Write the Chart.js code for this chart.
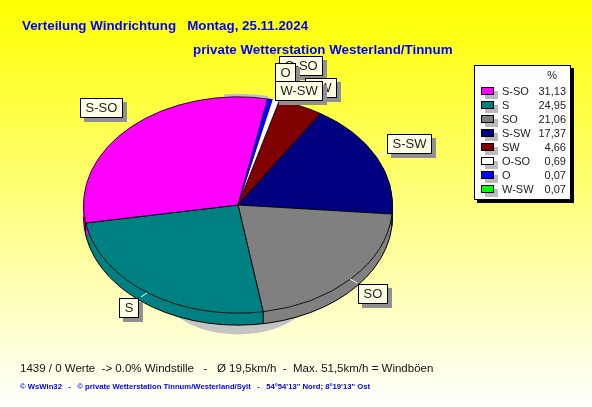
<!DOCTYPE html>
<html lang="de">
<head>
<meta charset="UTF-8">
<title>Verteilung Windrichtung</title>
<script src="https://cdn.jsdelivr.net/npm/chart.js"></script>
<style>
    html, body { margin: 0; padding: 0; }
    body {
        width: 592px; height: 407px; position: relative; overflow: hidden;
        background: linear-gradient(#ffff00, #ffffff);
        font-family: "Liberation Sans", Arial, sans-serif;
    }
    #pie { position: absolute; left: 0; top: 0; }
    .head { position: absolute; color: #0000ff; font-weight: bold; font-size: 13.35px; white-space: pre; }
    .callout {
        position: absolute; box-sizing: border-box; height: 20px; min-width: 20px; line-height: 18px; padding: 0 4.5px;
        background: #ffffe6; border: 1px solid #000; box-shadow: 4px 4px 0 #909090;
        font-size: 13px; color: #222; white-space: nowrap; text-align: center;
    }
    #legend {
        position: absolute; left: 474px; top: 65px; width: 97px; height: 135px; box-sizing: border-box;
        background: #fff; border: 1px solid #000; box-shadow: 3px 3px 0 #000; font-size: 11px; color: #222;
    }
    #legend .pct { position: absolute; right: 13px; top: 3px; }
    #legend .row { position: absolute; left: 0; right: 0; height: 14px; line-height: 14px; }
    #legend .sw { position: absolute; left: 6px; top: 3px; width: 11px; height: 6px; border: 1px solid #000; box-shadow: 4px 4px 0 #bbb; }
    #legend .nm { position: absolute; left: 27px; }
    #legend .vl { position: absolute; right: 4px; }
</style>
</head>
<body>
<canvas id="pie" width="592" height="407"></canvas>
<div class="head" style="left:22px;top:18px">Verteilung Windrichtung   Montag, 25.11.2024</div>
<div class="head" style="left:193px;top:42px">private Wetterstation Westerland/Tinnum</div>
<div id="legend"><span class="pct">%</span></div>
<div style="position:absolute;left:20px;top:362px;font-size:11.5px;color:#111;white-space:pre">1439 / 0 Werte  -&gt; 0.0% Windstille   -   Ø 19,5km/h  -  Max. 51,5km/h = Windböen</div>
<div style="position:absolute;left:20px;top:382px;font-size:7.7px;font-weight:bold;color:#0000ff;white-space:pre">© WsWin32   -   © private Wetterstation Tinnum/Westerland/Sylt   -   54°54'13" Nord; 8°19'13" Ost</div>
<script>
    // legend order, biggest first
    const directions = ['S-SO', 'S', 'SO', 'S-SW', 'SW', 'O-SO', 'O', 'W-SW'];
    const percents = [31.13, 24.95, 21.06, 17.37, 4.66, 0.69, 0.07, 0.07];
    const colors = ['#ff00ff', '#008080', '#808080', '#000080', '#800000', '#ffffff', '#0000ff', '#00ff00'];

    const squash = 0.7;     // pie is tilted, so y is flattened
    const depth = 12;       // height of the side wall

    // callout boxes, drawn in this order
    const calloutBoxes = [
        ['S-SO', 80, 98], ['S-SW', 387, 134], ['SO', 358, 284], ['S', 119, 298],
        ['O-SO', 279, 56], ['SW', 305, 78], ['O', 275, 63], ['W-SW', 275, 81]
    ];
    const leaders = [[127, 120, 133, 123], [377, 156, 386, 153], [141, 297, 147, 293], [350, 279, 357, 283]];

    // the original draws clockwise from the smallest slice
    const pieLabels = directions.slice().reverse();
    const pieValues = percents.slice().reverse();
    const pieColors = colors.slice().reverse();
    const pieBorders = pieLabels.map(n => n === 'O-SO' ? '#ffffff' : '#000');

    function squashed(ctx, cx, cy, drop, scale, fn) {
        ctx.save();
        ctx.translate(cx, cy + drop);
        ctx.scale(scale, squash * scale);
        ctx.translate(-cx, -cy);
        fn();
        ctx.restore();
    }

    const tiltPlugin = {
        id: 'tilt',
        beforeDatasetsDraw(chart) {
            const ctx = chart.ctx;
            const arcs = chart.getDatasetMeta(0).data;
            const cx = arcs[0].x, cy = arcs[0].y, r = arcs[0].outerRadius;

            // shadow peeking out under the front of the pie
            squashed(ctx, cx, cy, 70, 0.55, () => {
                ctx.fillStyle = '#c4c4c4';
                ctx.beginPath();
                ctx.arc(cx, cy, r, 0, Math.PI * 2);
                ctx.fill();
            });
            // and the thin strip behind the top edge
            squashed(ctx, cx, cy, -3, 1, () => {
                ctx.fillStyle = '#c0c0c0';
                ctx.beginPath();
                ctx.moveTo(cx, cy);
                ctx.arc(cx, cy, r, -Math.PI / 2 - 0.09, -Math.PI / 2 + 0.2);
                ctx.closePath();
                ctx.fill();
            });

            // side wall: every slice again, stacked downwards
            arcs.forEach((arc, i) => {
                ctx.fillStyle = pieColors[i];
                for (let d = depth; d > 0; d--) {
                    squashed(ctx, cx, cy, d, 1, () => {
                        ctx.beginPath();
                        ctx.moveTo(cx, cy);
                        ctx.arc(cx, cy, r, arc.startAngle, arc.endAngle);
                        ctx.closePath();
                        ctx.fill();
                    });
                }
            });
            // lower rim of the wall
            ctx.strokeStyle = '#000';
            ctx.lineWidth = 1;
            ctx.beginPath();
            ctx.ellipse(cx, cy + depth, r, r * squash, 0, 0, Math.PI);
            ctx.stroke();
            // seams where two wall pieces meet
            arcs.forEach(arc => {
                const s = Math.sin(arc.startAngle);
                if (s > 0) {
                    const x = cx + r * Math.cos(arc.startAngle);
                    const y = cy + r * squash * s;
                    ctx.beginPath();
                    ctx.moveTo(x, y);
                    ctx.lineTo(x, y + depth);
                    ctx.stroke();
                }
            });

            ctx.save();
            ctx.translate(cx, cy);
            ctx.scale(1, squash);
            ctx.translate(-cx, -cy);
        },
        afterDatasetsDraw(chart) {
            const ctx = chart.ctx;
            // the O slice is too thin to see at its true size, so it gets a minimum width
            const arcO = chart.getDatasetMeta(0).data[pieLabels.indexOf('O')];
            const from = arcO.endAngle - 2 * Math.PI / 180;
            ctx.fillStyle = '#0000ff';
            ctx.beginPath();
            ctx.moveTo(arcO.x, arcO.y);
            ctx.arc(arcO.x, arcO.y, arcO.outerRadius, from, arcO.endAngle);
            ctx.closePath();
            ctx.fill();
            ctx.strokeStyle = '#000';
            ctx.lineWidth = 1;
            ctx.beginPath();
            ctx.moveTo(arcO.x, arcO.y);
            ctx.lineTo(arcO.x + arcO.outerRadius * Math.cos(from), arcO.y + arcO.outerRadius * Math.sin(from));
            ctx.stroke();

            ctx.restore();
            // little white leader lines
            ctx.strokeStyle = '#fff';
            leaders.forEach(([x1, y1, x2, y2]) => {
                ctx.beginPath();
                ctx.moveTo(x1, y1);
                ctx.lineTo(x2, y2);
                ctx.stroke();
            });
        }
    };

    new Chart(document.getElementById('pie'), {
        type: 'pie',
        data: {
            labels: pieLabels,
            datasets: [{
                data: pieValues,
                backgroundColor: pieColors,
                borderColor: pieBorders,
                borderWidth: 1
            }]
        },
        options: {
            responsive: false,
            animation: false,
            rotation: 12.5,
            layout: { padding: { left: 83, right: 199, top: 50, bottom: 47 } },
            plugins: { legend: { display: false }, tooltip: { enabled: false } },
            events: []
        },
        plugins: [tiltPlugin]
    });

    // legend box
    const legendBox = document.getElementById('legend');
    directions.forEach((name, i) => {
        const row = document.createElement('div');
        row.className = 'row';
        row.style.top = (18 + i * 14) + 'px';
        const sw = document.createElement('span');
        sw.className = 'sw';
        sw.style.background = colors[i];
        const nm = document.createElement('span');
        nm.className = 'nm';
        nm.textContent = name;
        const vl = document.createElement('span');
        vl.className = 'vl';
        vl.textContent = percents[i].toFixed(2).replace('.', ',');
        row.append(sw, nm, vl);
        legendBox.appendChild(row);
    });

    // callouts
    calloutBoxes.forEach(([name, left, top]) => {
        const box = document.createElement('div');
        box.className = 'callout';
        box.style.left = left + 'px';
        box.style.top = top + 'px';
        box.textContent = name;
        document.body.appendChild(box);
    });
</script>
</body>
</html>
